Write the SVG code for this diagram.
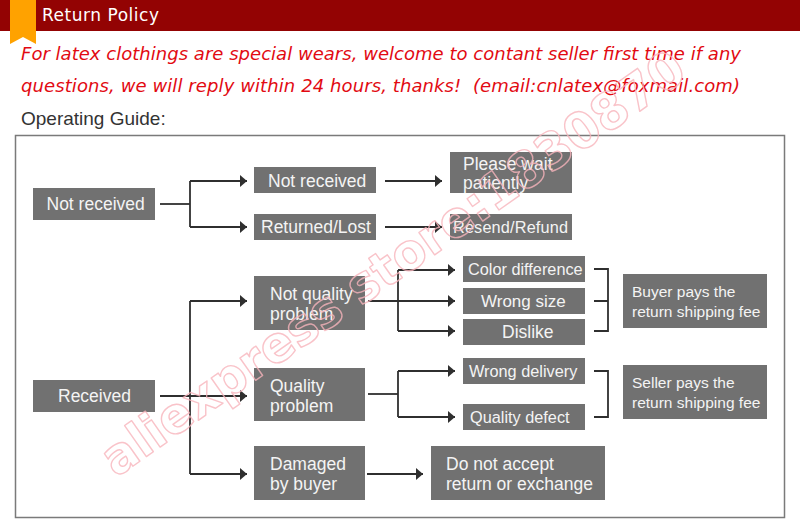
<svg xmlns="http://www.w3.org/2000/svg" width="800" height="531" viewBox="0 0 800 531">
<style>
.n{fill:#717171}
.t{font-family:"Liberation Sans",Arial,sans-serif;font-size:17.5px;fill:#f4f4f4}
.s{font-size:15.500px}
.m{font-size:16.300px}
.c path{fill:none;stroke:#2f2f2f;stroke-width:1.8}
.r{font-family:"DejaVu Sans",Verdana,sans-serif;font-style:italic;font-size:18px;fill:#e20a12}
</style>
<defs><marker id="a" markerUnits="userSpaceOnUse" markerWidth="8" markerHeight="12" refX="7" refY="6" orient="auto"><path d="M0 0L7 6L0 12Z" fill="#2f2f2f"/></marker></defs>
<rect width="800" height="531" fill="#fff"/>
<g id="header">
<rect width="800" height="31" fill="#930303"/>
<path d="M10 0H36V44L23 37L10 44Z" fill="#ffa200"/>
<text x="42" y="21" font-family="DejaVu Sans,Verdana,sans-serif" font-size="17" fill="#fff" textLength="117">Return Policy</text>
</g>
<g id="intro">
<text class="r" x="21" y="60" textLength="720">For latex clothings are special wears, welcome to contant seller first time if any</text>
<text class="r" x="21" y="92" textLength="719" xml:space="preserve">questions, we will reply within 24 hours, thanks!  (email:cnlatex@foxmail.com)</text>
<text x="21" y="125" font-family="Liberation Sans,Arial,sans-serif" font-size="19" fill="#333">Operating Guide:</text>
</g>
<rect id="frame" x="15.500" y="135.500" width="769" height="382" fill="none" stroke="#7a7a7a" stroke-width="1.5"/>
<g id="connectors" class="c">
<path d="M160 204H190"/>
<path d="M190 181V227"/>
<path d="M190 181H247" marker-end="url(#a)"/>
<path d="M190 227H247" marker-end="url(#a)"/>
<path d="M385 181H442" marker-end="url(#a)"/>
<path d="M385 227H442" marker-end="url(#a)"/>
<path d="M160 396H247" marker-end="url(#a)"/>
<path d="M190 301V474"/>
<path d="M190 301H247" marker-end="url(#a)"/>
<path d="M190 474H247" marker-end="url(#a)"/>
<path d="M368 301H455" marker-end="url(#a)"/>
<path d="M398 270V331"/>
<path d="M398 270H455" marker-end="url(#a)"/>
<path d="M398 331H455" marker-end="url(#a)"/>
<path d="M368 394H398"/>
<path d="M398 371V417"/>
<path d="M398 371H455" marker-end="url(#a)"/>
<path d="M398 417H455" marker-end="url(#a)"/>
<path d="M367 474H423" marker-end="url(#a)"/>
<path d="M594 269H608V331H594M594 301H608"/>
<path d="M594 371H608V417H594"/>
</g>
<g id="n1"><rect class="n" x="33" y="188" width="122" height="32"/><text class="t" x="46.500" y="210">Not received</text></g>
<g id="n2"><rect class="n" x="254" y="167" width="122" height="26"/><text class="t" x="268" y="187">Not received</text></g>
<g id="n3"><rect class="n" x="254" y="214" width="122" height="26"/><text class="t" x="261" y="233">Returned/Lost</text></g>
<g id="n4"><rect class="n" x="450" y="152" width="122" height="41"/><text class="t" x="463" y="170">Please wait</text><text class="t" x="463" y="189">patiently</text></g>
<g id="n5"><rect class="n" x="450" y="214" width="122" height="26"/><text class="t m" x="453" y="233" textLength="115">Resend/Refund</text></g>
<g id="n6"><rect class="n" x="33" y="380" width="122" height="32"/><text class="t" x="58" y="402">Received</text></g>
<g id="n7"><rect class="n" x="254" y="276" width="111" height="54"/><text class="t" x="270" y="300">Not quality</text><text class="t" x="270" y="320">problem</text></g>
<g id="n8"><rect class="n" x="254" y="368" width="111" height="53"/><text class="t" x="270" y="392">Quality</text><text class="t" x="270" y="412">problem</text></g>
<g id="n9"><rect class="n" x="254" y="446" width="111" height="54"/><text class="t" x="270" y="470">Damaged</text><text class="t" x="270" y="490">by buyer</text></g>
<g id="n10"><rect class="n" x="463" y="256" width="122" height="26"/><text class="t m" x="468" y="275">Color difference</text></g>
<g id="n11"><rect class="n" x="463" y="288" width="122" height="26"/><text class="t" x="481" y="307" style="font-size:17px">Wrong size</text></g>
<g id="n12"><rect class="n" x="463" y="319" width="122" height="26"/><text class="t" x="502" y="338">Dislike</text></g>
<g id="n13"><rect class="n" x="463" y="358" width="122" height="26"/><text class="t m" x="469" y="377">Wrong delivery</text></g>
<g id="n14"><rect class="n" x="463" y="404" width="122" height="26"/><text class="t m" x="470" y="423">Quality defect</text></g>
<g id="n15"><rect class="n" x="623" y="274" width="144" height="54"/><text class="t s" x="632" y="297">Buyer pays the</text><text class="t s" x="632" y="317">return shipping fee</text></g>
<g id="n16"><rect class="n" x="623" y="365" width="144" height="54"/><text class="t s" x="632" y="388">Seller pays the</text><text class="t s" x="632" y="408">return shipping fee</text></g>
<g id="n17"><rect class="n" x="431" y="446" width="174" height="54"/><text class="t" x="446" y="470">Do not accept</text><text class="t" x="446" y="490">return or exchange</text></g>
<text id="watermark" transform="translate(116 478) rotate(-35)" font-family="DejaVu Sans,Verdana,sans-serif" font-weight="bold" font-size="50" fill="none" stroke="#f8b4bb" stroke-width="1.4" stroke-linejoin="round" stroke-opacity=".8" textLength="700" lengthAdjust="spacingAndGlyphs">aliexpress store:1830870</text>
</svg>
